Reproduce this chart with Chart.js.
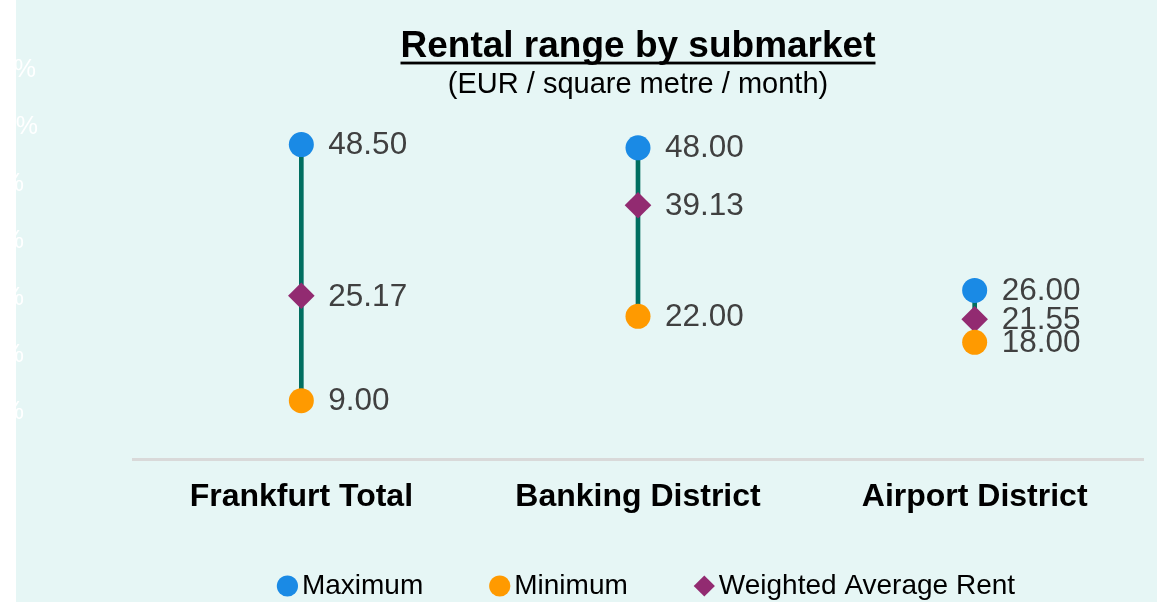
<!DOCTYPE html>
<html>
<head>
<meta charset="utf-8">
<script src="https://cdn.jsdelivr.net/npm/chart.js@4.4.1/dist/chart.umd.min.js"></script>
<style>
html, body { margin: 0; padding: 0; background: #ffffff; overflow: hidden; width: 1157px; height: 602px; }
#wrap { position: absolute; left: -26px; top: 0; width: 1183px; height: 602px; }
</style>
</head>
<body>
<div id="wrap"><canvas id="c"></canvas></div>
<script>
// ---- data ----
const categories = ['Frankfurt Total', 'Banking District', 'Airport District'];
const maximumRent = [48.50, 48.00, 26.00];
const minimumRent = [9.00, 22.00, 18.00];
const weightedAverageRent = [25.17, 39.13, 21.55];
const seriesNames = ['Maximum', 'Minimum', 'Weighted Average Rent'];
const percentTicks = [50, 60, 70, 80, 90, 100, 110];
const titleText = 'Rental range by submarket';
const subtitleText = '(EUR / square metre / month)';

// ---- styles ----
const FONT = "'Liberation Sans', Arial, Helvetica, sans-serif";
const BG = '#e6f6f5';
const BLUE = '#1a8ae5';
const ORANGE = '#ff9a00';
const PURPLE = '#922b71';
const TEAL = '#006e60';
const TITLE_SIZE = 37;

const rangeBars = categories.map((c, i) => [minimumRent[i], maximumRent[i]]);

const bgPlugin = {
  id: 'bg',
  beforeDraw(chart) {
    const ctx = chart.ctx;
    ctx.save();
    ctx.fillStyle = BG;
    ctx.fillRect(42, 0, chart.width - 42, chart.height);
    ctx.restore();
  }
};

const valueLabels = {
  id: 'valueLabels',
  afterDatasetsDraw(chart) {
    const ctx = chart.ctx;
    ctx.save();
    ctx.font = '31.5px ' + FONT;
    ctx.fillStyle = '#404040';
    ctx.textAlign = 'left';
    ctx.textBaseline = 'middle';
    chart.data.datasets.forEach((ds, di) => {
      if (ds.type === 'bar') return;
      const meta = chart.getDatasetMeta(di);
      meta.data.forEach((pt, j) => {
        ctx.fillText(Number(ds.data[j]).toFixed(2), pt.x + 27, pt.y + 1);
      });
    });
    ctx.restore();
  }
};

const titleUnderline = {
  id: 'titleUnderline',
  afterDraw(chart) {
    const tb = chart.titleBlock;
    if (!tb) return;
    const ctx = chart.ctx;
    ctx.save();
    ctx.font = 'bold ' + TITLE_SIZE + 'px ' + FONT;
    const w = ctx.measureText(titleText).width;
    const cx = (tb.left + tb.right) / 2;
    const padTop = tb.options.padding.top;
    const midY = tb.top + padTop + TITLE_SIZE * 1.2 / 2;
    const y = midY + TITLE_SIZE * 0.39;
    ctx.fillStyle = '#000000';
    ctx.fillRect(cx - w / 2, y, w, 2.8);
    ctx.restore();
  }
};

const legendShift = {
  id: 'legendShift',
  afterLayout(chart) {
    if (chart.legend) { chart.legend.left += 13; chart.legend.right += 13; }
  }
};

new Chart(document.getElementById('c'), {
  type: 'line',
  data: {
    labels: categories,
    datasets: [
      { label: seriesNames[0], data: maximumRent, showLine: false, pointStyle: 'circle',
        pointRadius: 12.5, pointHoverRadius: 12.5, backgroundColor: BLUE, borderColor: BLUE,
        pointBorderWidth: 0, borderWidth: 0, order: 1, yAxisID: 'y' },
      { label: seriesNames[1], data: minimumRent, showLine: false, pointStyle: 'circle',
        pointRadius: 12.5, pointHoverRadius: 12.5, backgroundColor: ORANGE, borderColor: ORANGE,
        pointBorderWidth: 0, borderWidth: 0, order: 2, yAxisID: 'y' },
      { label: seriesNames[2], data: weightedAverageRent, showLine: false, pointStyle: 'rectRot',
        pointRadius: 13.3, pointHoverRadius: 13.3, backgroundColor: PURPLE, borderColor: PURPLE,
        pointBorderWidth: 0, borderWidth: 0, order: 3, yAxisID: 'y' },
      { type: 'bar', label: 'range', data: rangeBars, backgroundColor: TEAL, borderWidth: 0,
        barThickness: 4, order: 10, yAxisID: 'y' }
    ]
  },
  options: {
    responsive: true,
    maintainAspectRatio: false,
    animation: false,
    events: [],
    layout: { padding: { left: 0, right: 14, top: 0, bottom: 0 } },
    plugins: {
      tooltip: { enabled: false },
      title: {
        display: true, text: titleText, fullSize: false, color: '#000000',
        font: { family: FONT, size: TITLE_SIZE, weight: 'bold', lineHeight: 1.2 },
        padding: { top: 25, bottom: 0 }
      },
      subtitle: {
        display: true, text: subtitleText, fullSize: false, color: '#000000',
        font: { family: FONT, size: 29, weight: 'normal', lineHeight: 1.2 },
        padding: { top: -2, bottom: -32.2 }
      },
      legend: {
        display: true, position: 'bottom', fullSize: false, maxHeight: 87,
        title: { display: true, text: '', font: { family: FONT, size: 10, lineHeight: 1 },
          padding: { top: -29, bottom: 0 } },
        labels: {
          usePointStyle: true, boxWidth: 1, boxHeight: 15, padding: 76,
          color: '#000000', font: { family: FONT, size: 28 },
          filter: (item) => item.text !== 'range'
        }
      }
    },
    scales: {
      x: {
        type: 'category', offset: true,
        grid: { display: true, drawOnChartArea: false, drawTicks: true, tickLength: 20, color: 'rgba(0,0,0,0)' },
        border: { display: true, color: '#d9d9d9', width: 3 },
        ticks: { color: '#000000', padding: 0, maxRotation: 0, autoSkip: false,
          font: { family: FONT, size: 32, weight: 'bold', lineHeight: '36px' } }
      },
      y: {
        display: false, min: 0, max: 60
      },
      y2: {
        position: 'left', min: 41.7, max: 110,
        grid: { display: false }, border: { display: false },
        afterBuildTicks: (scale) => { scale.ticks = percentTicks.map(v => ({ value: v })); },
        afterFit: (scale) => { scale.width = 159; },
        ticks: { color: '#ffffff', crossAlign: 'far', padding: 0,
          font: { family: FONT, size: 25 },
          callback: (v) => v + '%' }
      }
    }
  },
  plugins: [bgPlugin, valueLabels, titleUnderline, legendShift]
});
</script>
</body>
</html>
